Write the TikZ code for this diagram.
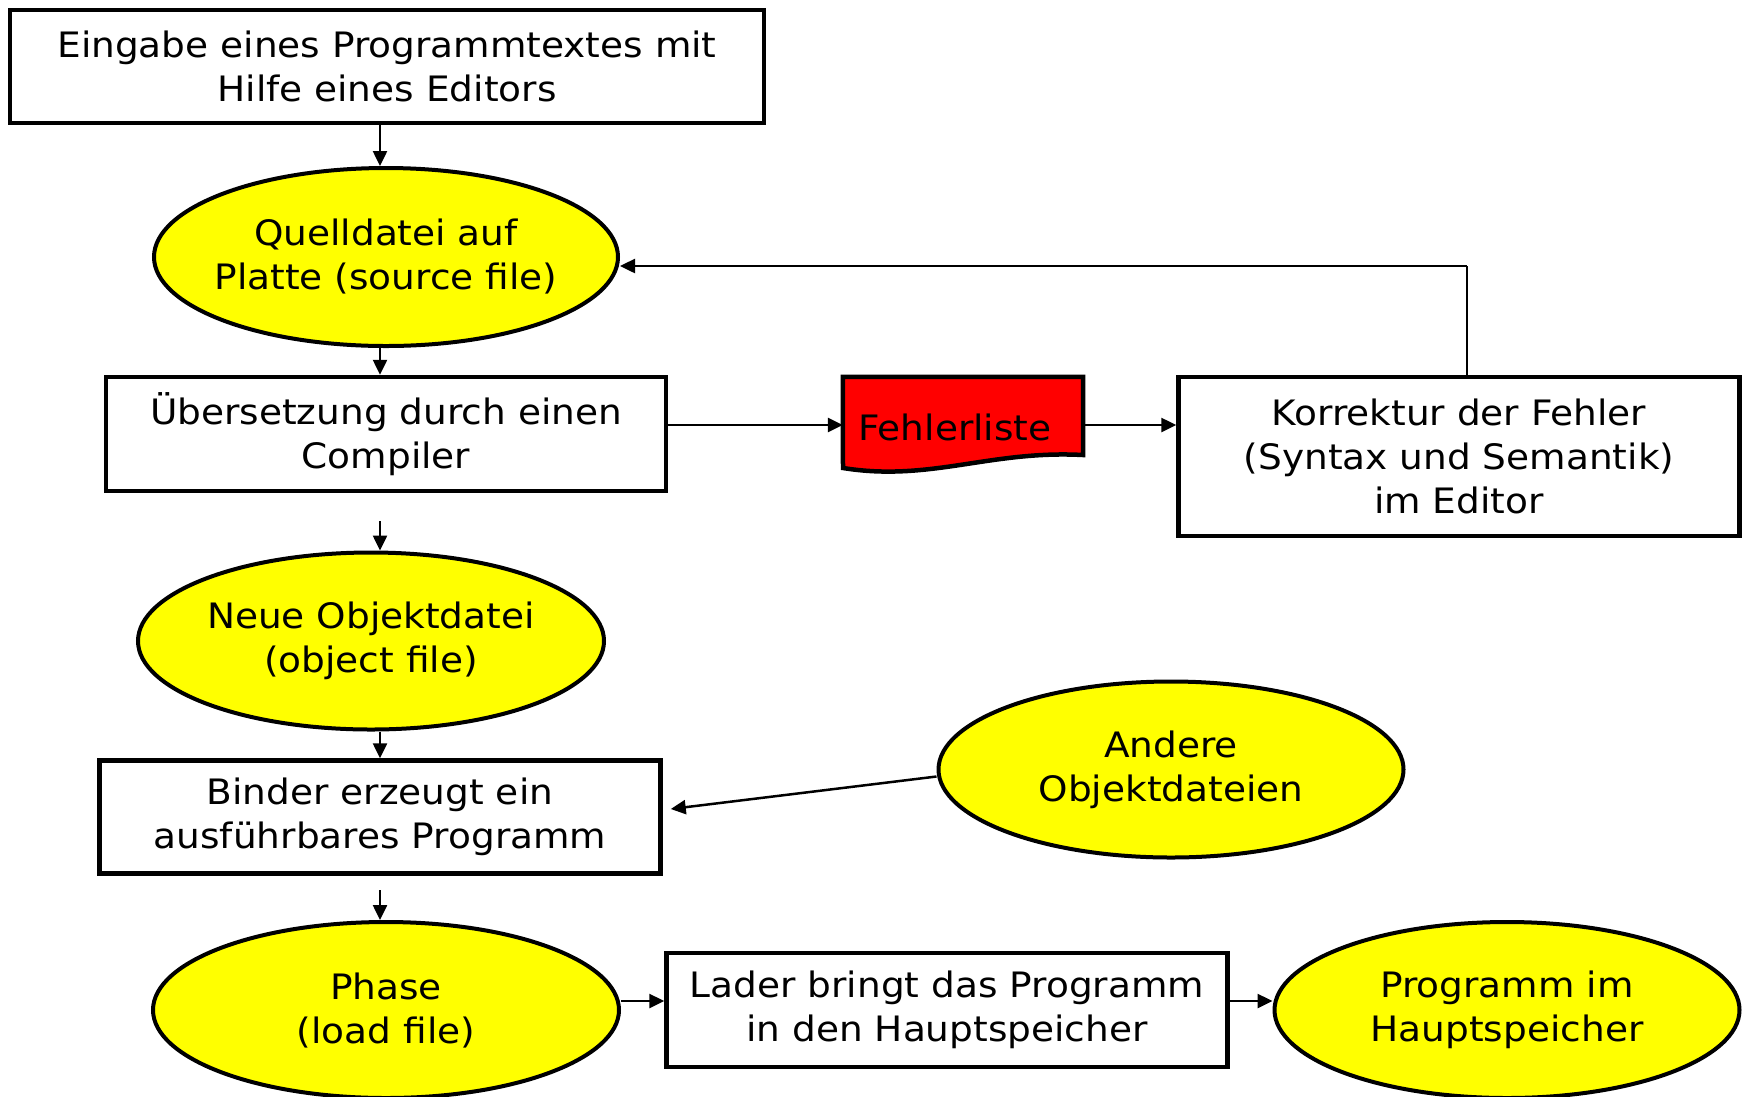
\documentclass[tikz,border=0pt]{standalone}
\usepackage{fontspec}
\setmainfont[FakeStretch=1.07]{DejaVu Sans}
\usetikzlibrary{shapes.geometric,arrows.meta}
\definecolor{yel}{RGB}{255,255,0}
\definecolor{rd}{RGB}{255,0,0}
\begin{document}
\begin{tikzpicture}[x=1pt,y=-1pt,
  txt/.style={font=\fontsize{35}{44}\selectfont, align=center, text=black},
  boxnode/.style={txt, draw=black, line width=4.5pt, fill=white, rectangle, inner sep=0pt},
  ellnode/.style={txt, draw=black, line width=4pt, fill=yel, ellipse, inner xsep=-60pt, inner ysep=0pt},
  arr/.style={draw=black, line width=2.5pt, -{Triangle[length=15pt,width=14pt]}},
  plain/.style={draw=black, line width=2.5pt},
]
\useasboundingbox (0,0) rectangle (1746,1096);

% nodes
\node[boxnode, minimum width=754pt, minimum height=113pt] (box1) at (387,66.5)
  {Eingabe eines Programmtextes mit\\Hilfe eines Editors};
\node[ellnode, minimum width=464pt, minimum height=178pt] (src) at (386,257)
  {Quelldatei auf\\Platte (source file)};
\node[boxnode, minimum width=560pt, minimum height=114pt] (comp) at (386,434)
  {Übersetzung durch einen\\Compiler};
\node[txt, rectangle, minimum width=240pt, minimum height=96pt, inner sep=0pt] (fehler) at (963,425) {};
\node[boxnode, minimum width=561pt, minimum height=159pt] (korr) at (1459,456.5)
  {Korrektur der Fehler\\(Syntax und Semantik)\\im Editor};
\node[ellnode, minimum width=466pt, minimum height=177pt] (obj) at (371,641)
  {Neue Objektdatei\\(object file)};
\node[boxnode, minimum width=561pt, minimum height=113pt] (binder) at (380,817)
  {Binder erzeugt ein\\ausführbares Programm};
\node[ellnode, minimum width=465pt, minimum height=176pt] (andere) at (1171,769.5)
  {Andere\\Objektdateien};
\node[ellnode, minimum width=466pt, minimum height=176pt] (phase) at (386,1010)
  {Phase\\(load file)};
\node[boxnode, minimum width=561pt, minimum height=114pt] (lader) at (947,1010)
  {Lader bringt das Programm\\in den Hauptspeicher};
\node[ellnode, minimum width=465pt, minimum height=176pt] (prog) at (1507,1010)
  {Programm im\\Hauptspeicher};

% document shape for Fehlerliste
\draw[line width=4.5pt, fill=rd, line join=miter]
  (fehler.north west) -- (fehler.north east) -- (1083,455)
  .. controls (990,450) and (930,482) .. (843,468) -- cycle;
\node[txt, anchor=center] (fehlertext) at (955,427) {Fehlerliste};

% helper coordinates
\coordinate (col) at (380,0);
\coordinate (g1) at (380,521);
\coordinate (g2) at (380,890);
\coordinate (fb) at (1467,266);

% connectors
\draw[arr] (box1.south -| col) -- (src.north -| col);
\draw[arr] (src.south -| col) -- (comp.north -| col);
\draw[arr] (g1) -- (obj.north -| col);
\draw[arr] (obj.south -| col) -- (binder.north -| col);
\draw[arr] (g2) -- (phase.north -| col);
\draw[arr] (comp.east |- fehler.west) -- (fehler.west);
\draw[arr] (fehler.east) -- (korr.west |- fehler.east);
\draw[plain] (korr.north -| fb) -- (fb);
\draw[arr] (fb) -- (fb -| src.east);
\draw[arr] ([yshift=-7pt]andere.west) -- ([xshift=8pt,yshift=8pt]binder.east);
\draw[arr] ([yshift=9pt]phase.east) -- ([yshift=9pt]lader.west);
\draw[arr] ([yshift=9pt]lader.east) -- ([yshift=9pt]prog.west);
\end{tikzpicture}
\end{document}
